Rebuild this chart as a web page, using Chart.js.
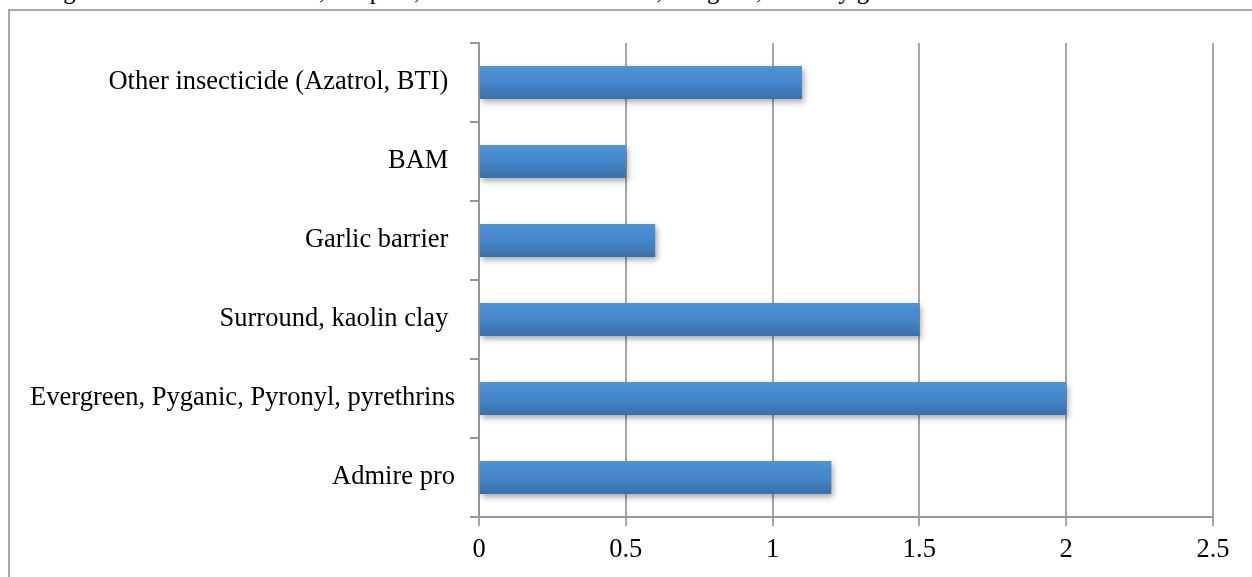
<!DOCTYPE html>
<html>
<head>
<meta charset="utf-8">
<script src="https://cdn.jsdelivr.net/npm/chart.js@4"></script>
<style>
  body { margin: 0; background: #fff; overflow: hidden; }
  #note { position: absolute; left: 5px; top: -22px; font: 24.6px "Liberation Serif", serif; color: #000; white-space: nowrap; line-height: 25px; }
  #frame { position: absolute; left: 8px; top: 9px; width: 1300px; height: 700px; border: 2px solid #a9a9a9; }
  #wrap { position: absolute; left: 0; top: 0; width: 1252px; height: 577px; }
</style>
</head>
<body>
<div id="note">Average score: 0 = not effective, 1 = poor, 2 = somewhat effective, 3 = good, 4 = very good</div>
<div id="frame"></div>
<div id="wrap"><canvas id="chart"></canvas></div>
<script>
// categories listed top to bottom
const products = ['Other insecticide (Azatrol, BTI) ', 'BAM ', 'Garlic barrier ', 'Surround, kaolin clay ', 'Evergreen, Pyganic, Pyronyl, pyrethrins', 'Admire pro'];
const scores = [1.1, 0.5, 0.6, 1.5, 2.0, 1.2];
const xTicks = [0, 0.5, 1, 1.5, 2, 2.5];

const barPct = 0.42;

// vertical gradient for each bar
function barFill(c) {
    if (c.dataIndex === undefined || !c.chart.chartArea) return '#4a8ccc';
    const y = c.chart.scales.y;
    const mid = y.getPixelForValue(c.dataIndex);
    const half = (y.height / products.length) * barPct / 2;
    const g = c.chart.ctx.createLinearGradient(0, mid - half, 0, mid + half);
    g.addColorStop(0, '#4d94d8');
    g.addColorStop(0.5, '#4686c8');
    g.addColorStop(1, '#3a70a7');
    return g;
}

const shadowPlugin = {
    id: 'barShadow',
    beforeDatasetsDraw(chart) {
        const ctx = chart.ctx;
        ctx.save();
        ctx.shadowColor = 'rgba(0,0,0,0.35)';
        ctx.shadowBlur = 6;
        ctx.shadowOffsetX = 2;
        ctx.shadowOffsetY = 3;
    },
    afterDatasetsDraw(chart) {
        chart.ctx.restore();
    }
};

const tickFont = { family: '"Liberation Serif", "Times New Roman", serif', size: 26.5 };

new Chart(document.getElementById('chart'), {
    type: 'bar',
    data: {
        labels: products,
        datasets: [{
            data: scores,
            backgroundColor: barFill,
            borderWidth: 0,
            categoryPercentage: 1,
            barPercentage: barPct
        }]
    },
    options: {
        indexAxis: 'y',
        responsive: true,
        maintainAspectRatio: false,
        animation: false,
        layout: { padding: { left: 0, right: 39, top: 43, bottom: 0 } },
        plugins: {
            legend: { display: false },
            tooltip: { enabled: false }
        },
        scales: {
            x: {
                min: 0,
                max: 2.5,
                afterBuildTicks: (s) => { s.ticks = xTicks.map(v => ({ value: v })); },
                afterFit: (s) => { s.height = 60; },
                ticks: { color: '#000', font: tickFont, padding: 8, maxRotation: 0, callback: (v) => String(v) },
                grid: { color: '#a6a6a6', lineWidth: 2, tickLength: 9, drawTicks: true },
                border: { color: '#969696', width: 2 }
            },
            y: {
                afterFit: (s) => { s.width = 479; },
                ticks: { color: '#000', font: tickFont, padding: 15, autoSkip: false },
                grid: { offset: true, drawOnChartArea: false, color: '#969696', lineWidth: 2, tickLength: 9 },
                border: { color: '#969696', width: 2 }
            }
        }
    },
    plugins: [shadowPlugin]
});
</script>
</body>
</html>
